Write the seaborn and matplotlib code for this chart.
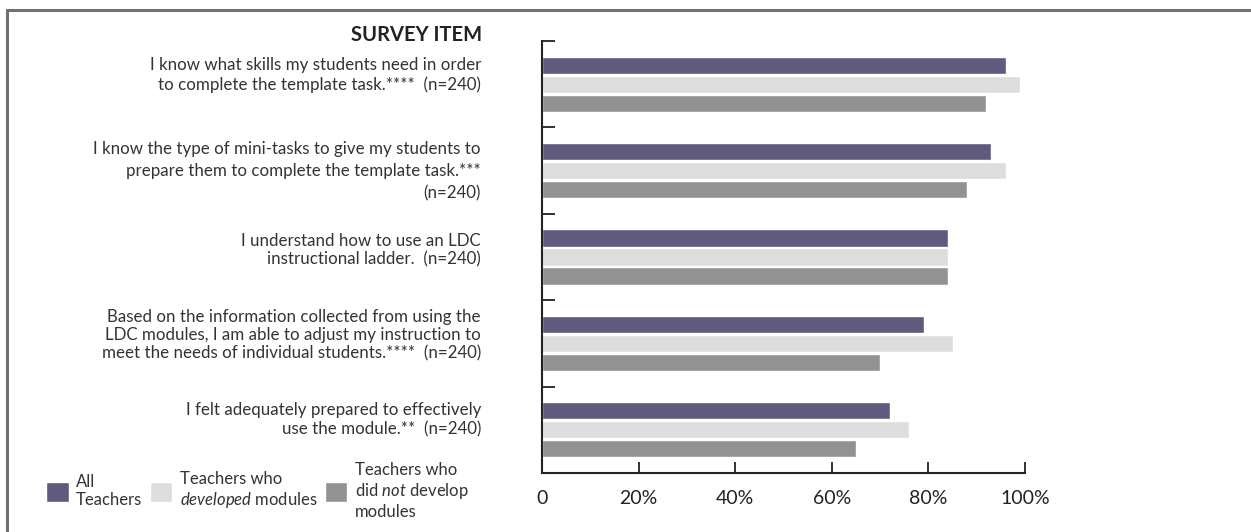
import matplotlib
matplotlib.use("Agg")
import matplotlib.pyplot as plt
import matplotlib.transforms as mtransforms
from matplotlib.lines import Line2D
import seaborn as sns
import pandas as pd

items = [
    "I know what skills my students need in order\nto complete the template task.****  (n=240)",
    "I know the type of mini-tasks to give my students to\nprepare them to complete the template task.***\n(n=240)",
    "I understand how to use an LDC\ninstructional ladder.  (n=240)",
    "Based on the information collected from using the\nLDC modules, I am able to adjust my instruction to\nmeet the needs of individual students.****  (n=240)",
    "I felt adequately prepared to effectively\nuse the module.**  (n=240)",
]
groups = ["All Teachers", "Teachers who developed modules", "Teachers who did not develop modules"]
legend_labels = [
    "All\nTeachers",
    "Teachers who\n$\\it{developed}$ modules",
    "Teachers who\ndid $\\it{not}$ develop\nmodules",
]
all_teachers = [96, 93, 84, 79, 72]
developed = [99, 96, 84, 85, 76]
not_developed = [92, 88, 84, 70, 65]
x_ticks = [0, 20, 40, 60, 80, 100]
x_tick_labels = ["0", "20%", "40%", "60%", "80%", "100%"]
colors = ["#5f5a7e", "#dddddd", "#929292"]

# label styling (vertical shift in px, line spacing)
label_shift_px = [12, 4, 9.5, 11, 13]
label_linespacing = [1.2, 1.45, 1.2, 1.2, 1.2]

sns.set_style("white")
plt.rcParams["font.family"] = ["Lato", "DejaVu Sans"]
plt.rcParams["mathtext.fontset"] = "custom"
plt.rcParams["mathtext.rm"] = "Lato"
plt.rcParams["mathtext.it"] = "Lato:italic"

rows = []
for it, a, d, n in zip(items, all_teachers, developed, not_developed):
    rows.append((it, groups[0], a))
    rows.append((it, groups[1], d))
    rows.append((it, groups[2], n))
df = pd.DataFrame(rows, columns=["item", "group", "value"])

fig = plt.figure(figsize=(12.51, 5.32), dpi=100)
ax = fig.add_axes([542 / 1251, 1 - 473 / 532, (1025 - 542) / 1251, (473 - 41) / 532])

sns.barplot(data=df, y="item", x="value", hue="group", order=items, hue_order=groups,
            palette=colors, orient="h", width=0.66, gap=0.1, ax=ax, saturation=1,
            errorbar=None)

ax.set_xlim(0, 100)
ax.set_ylim(len(items) - 0.5, -0.5)
ax.set_xlabel("")
ax.set_ylabel("")
ax.get_legend().remove()

for s in ["top", "right"]:
    ax.spines[s].set_visible(False)
for s in ["left", "bottom"]:
    ax.spines[s].set_color("#222222")
    ax.spines[s].set_linewidth(1.5)

ax.set_xticks(x_ticks)
ax.set_xticklabels(x_tick_labels, fontsize=14, color="#222222")
ax.tick_params(axis="x", direction="in", length=8, width=1.3, color="#222222", pad=12, bottom=True)

ax.set_yticks(range(len(items)))
ax.set_yticklabels(items, fontsize=12.2, color="#333333")
ax.tick_params(axis="y", which="major", length=0, pad=44)
ax.set_yticks([i - 0.5 for i in range(len(items))], minor=True)
ax.tick_params(axis="y", which="minor", direction="in", length=9, width=1.3, color="#222222", left=True)
for lbl, sh, ls in zip(ax.get_yticklabels(), label_shift_px, label_linespacing):
    lbl.set_linespacing(ls)
    lbl.set_transform(lbl.get_transform() + mtransforms.ScaledTranslation(0, sh / 100, fig.dpi_scale_trans))

fig.text(482 / 1251, 1 - 35 / 532, "SURVEY ITEM", ha="right", va="center",
         fontsize=14.5, fontweight="bold", color="#222222")

handles, _ = ax.get_legend_handles_labels()
fig.legend(handles, legend_labels, loc="center left", bbox_to_anchor=(46 / 1251, 1 - 491 / 532),
           ncol=3, frameon=False, fontsize=12, handlelength=1.35, handleheight=1.5,
           handletextpad=0.45, columnspacing=0.45, borderaxespad=0, borderpad=0,
           labelcolor="#333333")

fig.add_artist(Line2D([7 / 1251, 7 / 1251], [0, 1 - 10 / 532], transform=fig.transFigure,
                      color="#707070", lw=2.2))
fig.add_artist(Line2D([7 / 1251, 1], [1 - 10 / 532, 1 - 10 / 532], transform=fig.transFigure,
                      color="#707070", lw=2.2))

fig.savefig("out.png", dpi=100)
